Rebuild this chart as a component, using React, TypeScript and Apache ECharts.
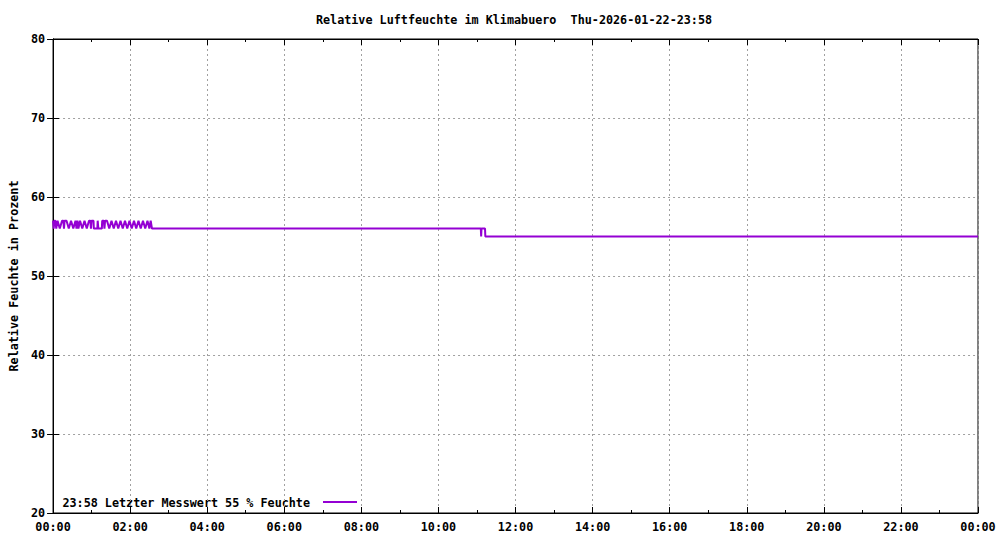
import React, { useEffect, useRef } from "react";
import * as echarts from "echarts";

// Time in minutes since 00:00, relative humidity in %
const oscTimes = [
  0, 1, 2, 3.5, 5, 7, 10.5, 14, 16, 17, 18, 21, 24.5, 28, 31.5, 35, 36.5, 38, 39.5, 42,
  45.5, 49, 52.5, 56, 58, 59, 60, 63, 63.5, 69, 69.5, 70.5, 76, 76.5, 79, 80, 81, 84,
  87.5, 91, 94.5, 98, 101.5, 105, 108.5, 112, 115.5, 119, 122.5, 126, 129.5, 133,
  136.5, 140, 143.5, 147, 150, 152, 154,
];
const oscValues = [
  57, 56, 57, 57, 56, 57, 56, 57, 57, 56, 57, 57, 56, 57, 56, 57, 56, 57, 56, 57,
  56, 57, 56, 57, 57, 56, 57, 57, 56, 56, 57, 56, 56, 57, 57, 56, 57, 57,
  56, 57, 56, 57, 56, 57, 56, 57, 56, 57, 56, 57, 56, 57,
  56, 57, 56, 57, 56, 57, 56,
];
const restTimes = [666, 666.5, 667, 672.5, 673, 1440];
const restValues = [56, 55, 56, 56, 55, 55];

const xTickMinutes = [0, 120, 240, 360, 480, 600, 720, 840, 960, 1080, 1200, 1320, 1440];
const yTicks = [20, 30, 40, 50, 60, 70, 80];

const titleText = "Relative Luftfeuchte im Klimabuero  Thu-2026-01-22-23:58";
const yAxisTitle = "Relative Feuchte in Prozent";
const legendText = "23:58 Letzter Messwert 55 % Feuchte";

const LINE_COLOR = "#9400d3";
const FONT = "'DejaVu Sans Mono', monospace";
const FS = 11.75;

function fmtTime(v: number): string {
  const m = Math.round(v) % 1440;
  const h = Math.floor(m / 60);
  const mm = m % 60;
  return String(h).padStart(2, "0") + ":" + String(mm).padStart(2, "0");
}

export default function App() {
  const ref = useRef<HTMLDivElement>(null);
  useEffect(() => {
    if (!ref.current) return;
    const chart = echarts.init(ref.current, undefined, { renderer: "svg" });
    const data: [number, number][] = [];
    oscTimes.forEach((t, i) => data.push([t, oscValues[i]]));
    restTimes.forEach((t, i) => data.push([t, restValues[i]]));

    const labelStyle = { fontFamily: FONT, fontWeight: "bold" as const, fontSize: FS, color: "#000" };
    const grid = { left: 51, right: 22, top: 39, bottom: 27, show: true, borderColor: "#000", borderWidth: 1, backgroundColor: "transparent" };
    const xMin = xTickMinutes[0];
    const xMax = xTickMinutes[xTickMinutes.length - 1];
    const xInt = xTickMinutes[1] - xTickMinutes[0];
    const yMin = yTicks[0];
    const yMax = yTicks[yTicks.length - 1];
    const yInt = yTicks[1] - yTicks[0];

    const dashed = { show: true, lineStyle: { color: "#a0a0a0", width: 1, type: [2, 3] as any } };

    chart.setOption({
      animation: false,
      backgroundColor: "#fff",
      grid,
      xAxis: [
        {
          type: "value", min: xMin, max: xMax, interval: xInt, position: "bottom",
          axisLine: { show: true, lineStyle: { color: "#000", width: 1 } },
          axisTick: { show: true, inside: true, length: 6, lineStyle: { color: "#000" } },
          minorTick: { show: true, splitNumber: 2, length: 3, lineStyle: { color: "#000" } },
          axisLabel: { ...labelStyle, margin: 8, formatter: (v: number) => fmtTime(v) },
          splitLine: dashed,
        },
        {
          type: "value", min: xMin, max: xMax, interval: xInt, position: "top",
          axisLine: { show: true, lineStyle: { color: "#000", width: 1 } },
          axisTick: { show: true, inside: true, length: 6, lineStyle: { color: "#000" } },
          minorTick: { show: true, splitNumber: 2, length: 3, lineStyle: { color: "#000" } },
          axisLabel: { show: false },
          splitLine: { show: false },
        },
      ],
      yAxis: [
        {
          type: "value", min: yMin, max: yMax, interval: yInt, position: "left",
          name: yAxisTitle, nameLocation: "middle", nameGap: 32,
          nameTextStyle: { ...labelStyle },
          axisLine: { show: true, lineStyle: { color: "#000", width: 1 } },
          axisTick: { show: true, inside: true, length: 6, lineStyle: { color: "#000" } },
          axisLabel: { ...labelStyle, margin: 8 },
          splitLine: dashed,
        },
        {
          type: "value", min: yMin, max: yMax, interval: yInt, position: "right",
          axisLine: { show: true, lineStyle: { color: "#000", width: 1 } },
          axisTick: { show: true, inside: true, length: 6, lineStyle: { color: "#000" } },
          axisLabel: { show: false },
          splitLine: { show: false },
        },
      ],
      series: [
        {
          type: "line",
          name: legendText,
          xAxisIndex: 0,
          yAxisIndex: 0,
          data,
          showSymbol: false,
          symbol: "none",
          lineStyle: { color: LINE_COLOR, width: 2 },
          itemStyle: { color: LINE_COLOR },
        },
      ],
      graphic: [
        {
          type: "text", x: 514, y: 20,
          style: { text: titleText, fontFamily: FONT, fontWeight: "bold", fontSize: FS, fill: "#000", align: "center", verticalAlign: "middle" },
        },
        {
          type: "text", x: 310, y: 503,
          style: { text: legendText, fontFamily: FONT, fontWeight: "bold", fontSize: FS, fill: "#000", align: "right", verticalAlign: "middle" },
        },
        {
          type: "line", shape: { x1: 323, y1: 502, x2: 357, y2: 502 },
          style: { stroke: LINE_COLOR, lineWidth: 2 },
        },
      ],
    });
    return () => chart.dispose();
  }, []);
  return <div ref={ref} style={{ position: "fixed", left: 0, top: 0, width: 1000, height: 540 }} />;
}
